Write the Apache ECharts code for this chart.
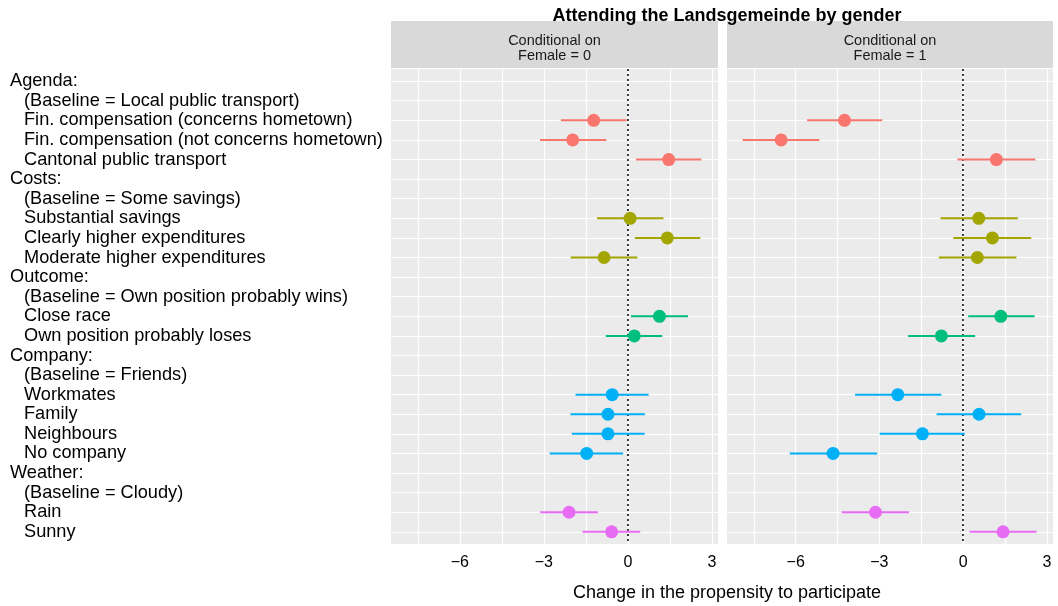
<!DOCTYPE html>
<html>
<head>
<meta charset="utf-8">
<script src="https://cdn.jsdelivr.net/npm/echarts@6/dist/echarts.min.js"></script>
<style>html,body{margin:0;padding:0;background:#fff}#c{width:1058px;height:606px}</style>
</head>
<body>
<div id="c"></div>
<script>
const rows = [
  'Agenda:', '(Baseline = Local public transport)', 'Fin. compensation (concerns hometown)',
  'Fin. compensation (not concerns hometown)', 'Cantonal public transport',
  'Costs:', '(Baseline = Some savings)', 'Substantial savings', 'Clearly higher expenditures',
  'Moderate higher expenditures',
  'Outcome:', '(Baseline = Own position probably wins)', 'Close race', 'Own position probably loses',
  'Company:', '(Baseline = Friends)', 'Workmates', 'Family', 'Neighbours', 'No company',
  'Weather:', '(Baseline = Cloudy)', 'Rain', 'Sunny'
];
const indent = [0,1,1,1,1, 0,1,1,1,1, 0,1,1,1, 0,1,1,1,1,1, 0,1,1,1];
const group  = [0,0,0,0,0, 1,1,1,1,1, 2,2,2,2, 3,3,3,3,3,3, 4,4,4,4];
const colors = ['#F8766D', '#A3A500', '#00BF7D', '#00B0F6', '#E76BF3'];

// Female = 0
const est0 = [null,null,-1.22,-1.97,1.46, null,null,0.08,1.41,-0.85, null,null,1.13,0.23, null,null,-0.56,-0.71,-0.71,-1.47, null,null,-2.10,-0.58];
const lo0  = [null,null,-2.39,-3.14,0.29, null,null,-1.10,0.25,-2.04, null,null,0.11,-0.79, null,null,-1.87,-2.05,-2.00,-2.79, null,null,-3.13,-1.62];
const hi0  = [null,null,-0.05,-0.77,2.63, null,null,1.27,2.59,0.34, null,null,2.15,1.23, null,null,0.74,0.61,0.60,-0.17, null,null,-1.07,0.44];
// Female = 1
const est1 = [null,null,-4.25,-6.52,1.19, null,null,0.56,1.05,0.51, null,null,1.35,-0.78, null,null,-2.34,0.57,-1.46,-4.66, null,null,-3.14,1.43];
const lo1  = [null,null,-5.59,-7.90,-0.20, null,null,-0.81,-0.35,-0.87, null,null,0.18,-1.97, null,null,-3.87,-0.95,-2.99,-6.21, null,null,-4.35,0.23];
const hi1  = [null,null,-2.90,-5.15,2.59, null,null,1.96,2.44,1.91, null,null,2.56,0.43, null,null,-0.78,2.08,0.06,-3.08, null,null,-1.94,2.63];

const xTicks = [-6, -3, 0, 3];
const xGrid = [-7.5, -6, -4.5, -3, -1.5, 0, 1.5, 3];
const panels = ['Female = 0', 'Female = 1'];

const rowIdx = rows.map((_, i) => i);
const minus = v => String(v).replace('-', '\u2212');

function ciData(est, lo, hi) {
  const d = [];
  rows.forEach((_, i) => { if (est[i] !== null) d.push([lo[i], hi[i], i, group[i]]); });
  return d;
}
function ptData(est) {
  const d = [];
  rows.forEach((_, i) => {
    if (est[i] !== null) d.push({ value: [est[i], i], itemStyle: { color: colors[group[i]], opacity: 1 } });
  });
  return d;
}

const grids = [
  { left: 391, width: 327, top: 69, height: 475, show: true, backgroundColor: '#EBEBEB', borderWidth: 0 },
  { left: 727, width: 326, top: 69, height: 475, show: true, backgroundColor: '#EBEBEB', borderWidth: 0 }
];

const xAxes = [0, 1].map(g => ({
  type: 'value', gridIndex: g, min: -8.46, max: 3.22,
  axisLine: { show: false },
  splitLine: { show: false },
  axisTick: { show: true, customValues: xTicks, length: 4, lineStyle: { color: '#333', width: 1 } },
  axisLabel: { customValues: xTicks, formatter: v => minus(v), color: '#000', fontSize: 16,
               fontFamily: 'Liberation Sans', margin: 11 }
}));

const yAxes = [0, 1].map(g => ({
  type: 'value', gridIndex: g, min: -0.62, max: 23.62, inverse: true,
  axisLine: { show: false },
  splitLine: { show: false },
  axisTick: { show: g === 0, customValues: rowIdx, length: 4, lineStyle: { color: '#555', width: 1 } },
  axisLabel: {
    show: g === 0, customValues: rowIdx, align: 'left', margin: 381,
    fontFamily: 'Liberation Sans', fontSize: 18.2, color: '#000',
    formatter: v => (indent[v] ? '{i|' : '{h|') + rows[v] + '}',
    rich: {
      h: { fontFamily: 'Liberation Sans', fontSize: 18.2, color: '#000' },
      i: { fontFamily: 'Liberation Sans', fontSize: 18.2, color: '#000', padding: [0, 0, 0, 14] }
    }
  }
}));

const series = [];
[[est0, lo0, hi0], [est1, lo1, hi1]].forEach((d, g) => {
  series.push({
    type: 'scatter', xAxisIndex: g, yAxisIndex: g, data: [], silent: true, z: 1,
    markLine: {
      z: 1, silent: true, symbol: ['none', 'none'], label: { show: false }, animation: false,
      lineStyle: { color: '#fff', width: 1.2, type: 'solid' },
      emphasis: { disabled: true },
      data: xGrid.map(v => ({ xAxis: v })).concat(rowIdx.map(i => ({ yAxis: i })))
    }
  });
  series.push({
    type: 'scatter', xAxisIndex: g, yAxisIndex: g, data: [], silent: true, z: 2,
    markLine: {
      z: 2, silent: true, symbol: ['none', 'none'], label: { show: false }, animation: false,
      lineStyle: { color: '#000', width: 1.5, type: [2, 3] },
      emphasis: { disabled: true },
      data: [{ xAxis: 0 }]
    }
  });
  series.push({
    type: 'custom', xAxisIndex: g, yAxisIndex: g, z: 3, silent: true,
    encode: { x: [0, 1], y: 2 },
    data: ciData(d[0], d[1], d[2]),
    renderItem: (params, api) => {
      const a = api.coord([api.value(0), api.value(2)]);
      const b = api.coord([api.value(1), api.value(2)]);
      return { type: 'line', shape: { x1: a[0], y1: a[1], x2: b[0], y2: b[1] },
               style: { stroke: colors[api.value(3)], lineWidth: 2 } };
    }
  });
  series.push({
    type: 'scatter', xAxisIndex: g, yAxisIndex: g, z: 4, silent: true,
    symbol: 'circle', symbolSize: 13,
    itemStyle: { opacity: 1 },
    data: ptData(d[0])
  });
});

const strips = grids.map((gr, g) => ({
  type: 'group', left: gr.left, top: 21,
  children: [
    { type: 'rect', shape: { x: 0, y: 0, width: gr.width, height: 47 }, style: { fill: '#D9D9D9' } },
    { type: 'text', x: gr.width / 2, y: 20, style: { text: 'Conditional on', fill: '#1a1a1a',
      font: '14.5px "Liberation Sans"', align: 'center', verticalAlign: 'middle' } },
    { type: 'text', x: gr.width / 2, y: 35, style: { text: panels[g], fill: '#1a1a1a',
      font: '14.5px "Liberation Sans"', align: 'center', verticalAlign: 'middle' } }
  ]
}));

const chart = echarts.init(document.getElementById('c'), null, { renderer: 'canvas' });
chart.setOption({
  animation: false,
  backgroundColor: '#fff',
  title: [
    { text: 'Attending the Landsgemeinde by gender', left: 722, top: 2, textAlign: 'center',
      textStyle: { fontFamily: 'Liberation Sans', fontSize: 18, fontWeight: 'bold', color: '#000' } },
    { text: 'Change in the propensity to participate', left: 722, top: 579, textAlign: 'center',
      textStyle: { fontFamily: 'Liberation Sans', fontSize: 18, fontWeight: 'normal', color: '#000' } }
  ],
  grid: grids,
  xAxis: xAxes,
  yAxis: yAxes,
  graphic: strips,
  series: series
});
</script>
</body>
</html>
